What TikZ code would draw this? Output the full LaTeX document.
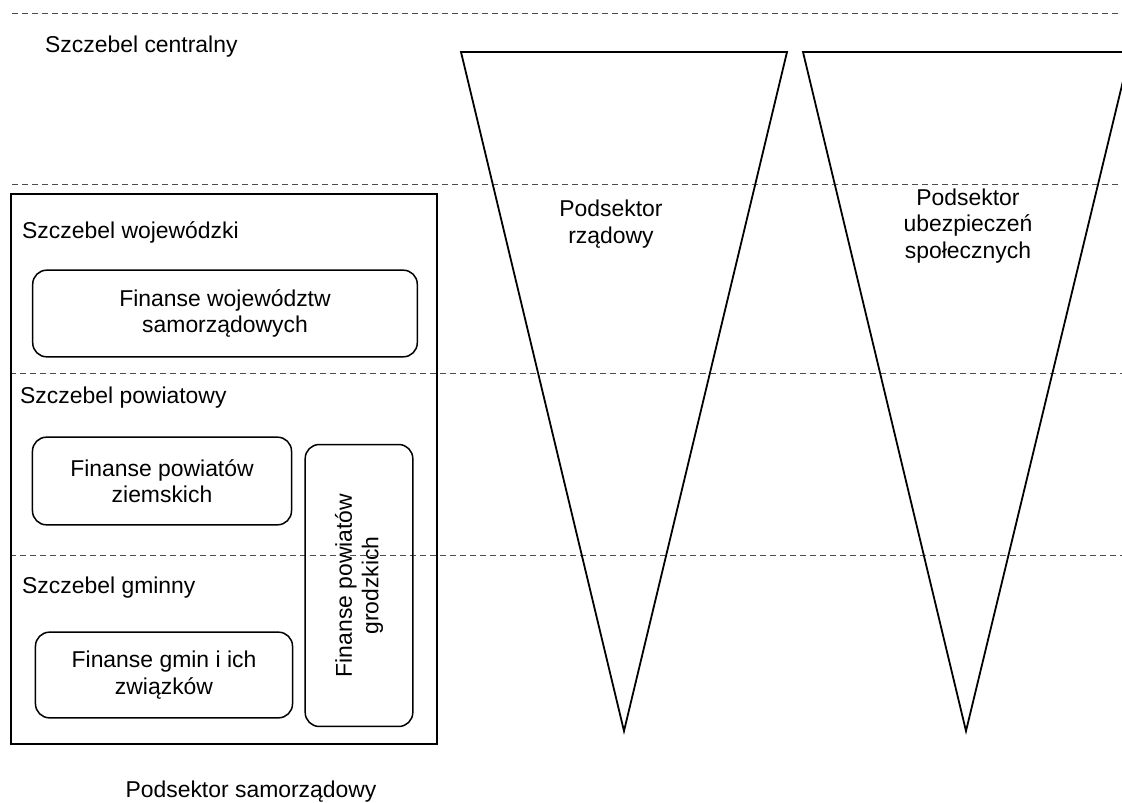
\documentclass[tikz,border=0pt]{standalone}
\usepackage{fontspec}
\setmainfont{Liberation Sans}
\begin{document}
\begin{tikzpicture}[x=1bp,y=-1bp,
  every node/.style={font=\fontsize{23}{26.5}\selectfont, inner sep=0pt},
  level/.style={anchor=base west},
  lane/.style={draw=black!70, dash pattern=on 6bp off 4bp, line width=1bp},
  frame/.style={draw, line width=1.8bp},
  unit/.style={draw, line width=1.5bp, rounded corners=14bp, align=center},
  sector/.style={draw, line width=1.8bp, line join=miter},
  label/.style={align=center}]
\useasboundingbox (0,0) rectangle (1122,803);
\clip (0,0) rectangle (1122,803);

% level separators
\draw[lane] (12,14) -- (1122,14);
\draw[lane] (12,184) -- (1122,184);
\draw[lane] (10,373) -- (1122,373);
\draw[lane] (10,555) -- (1122,555);

% central level
\node[level] (central) at (45,53) {Szczebel centralny};

% government and social insurance subsectors
\coordinate (govL) at (461,52);
\coordinate (govR) at (787,52);
\coordinate (govT) at (624,731);
\draw[sector] (govL) -- (govR) -- (govT) -- cycle;
\node[label] (gov) at (611,224) {Podsektor\\rządowy};

\coordinate (insL) at (803,52);
\coordinate (insR) at (1130,52);
\coordinate (insT) at (966,731);
\draw[sector] (insL) -- (insR) -- (insT) -- cycle;
\node[label] (ins) at (968,226) {Podsektor\\ubezpieczeń\\społecznych};

% local government subsector
\node[frame, minimum width=428, minimum height=552] (local) at (224,469) {};
\node[level] (voiv) at (22,238) {Szczebel wojewódzki};
\node[unit, minimum width=386, minimum height=87] (voivfin) at (225,313.5) {Finanse województw\\samorządowych};
\node[level] (county) at (20,403) {Szczebel powiatowy};
\node[unit, minimum width=260, minimum height=88] (countyfin) at (162,481) {Finanse powiatów\\ziemskich};
\node[unit, rotate=90, minimum width=283, minimum height=108] (cityfin) at (359,585.5) {Finanse powiatów\\grodzkich};
\node[level] (commune) at (22,593) {Szczebel gminny};
\node[unit, minimum width=258, minimum height=86] (communefin) at (164,675) {Finanse gmin i ich\\związków};
\node[anchor=base] (localname) at (251,797) {Podsektor samorządowy};
\end{tikzpicture}
\end{document}
